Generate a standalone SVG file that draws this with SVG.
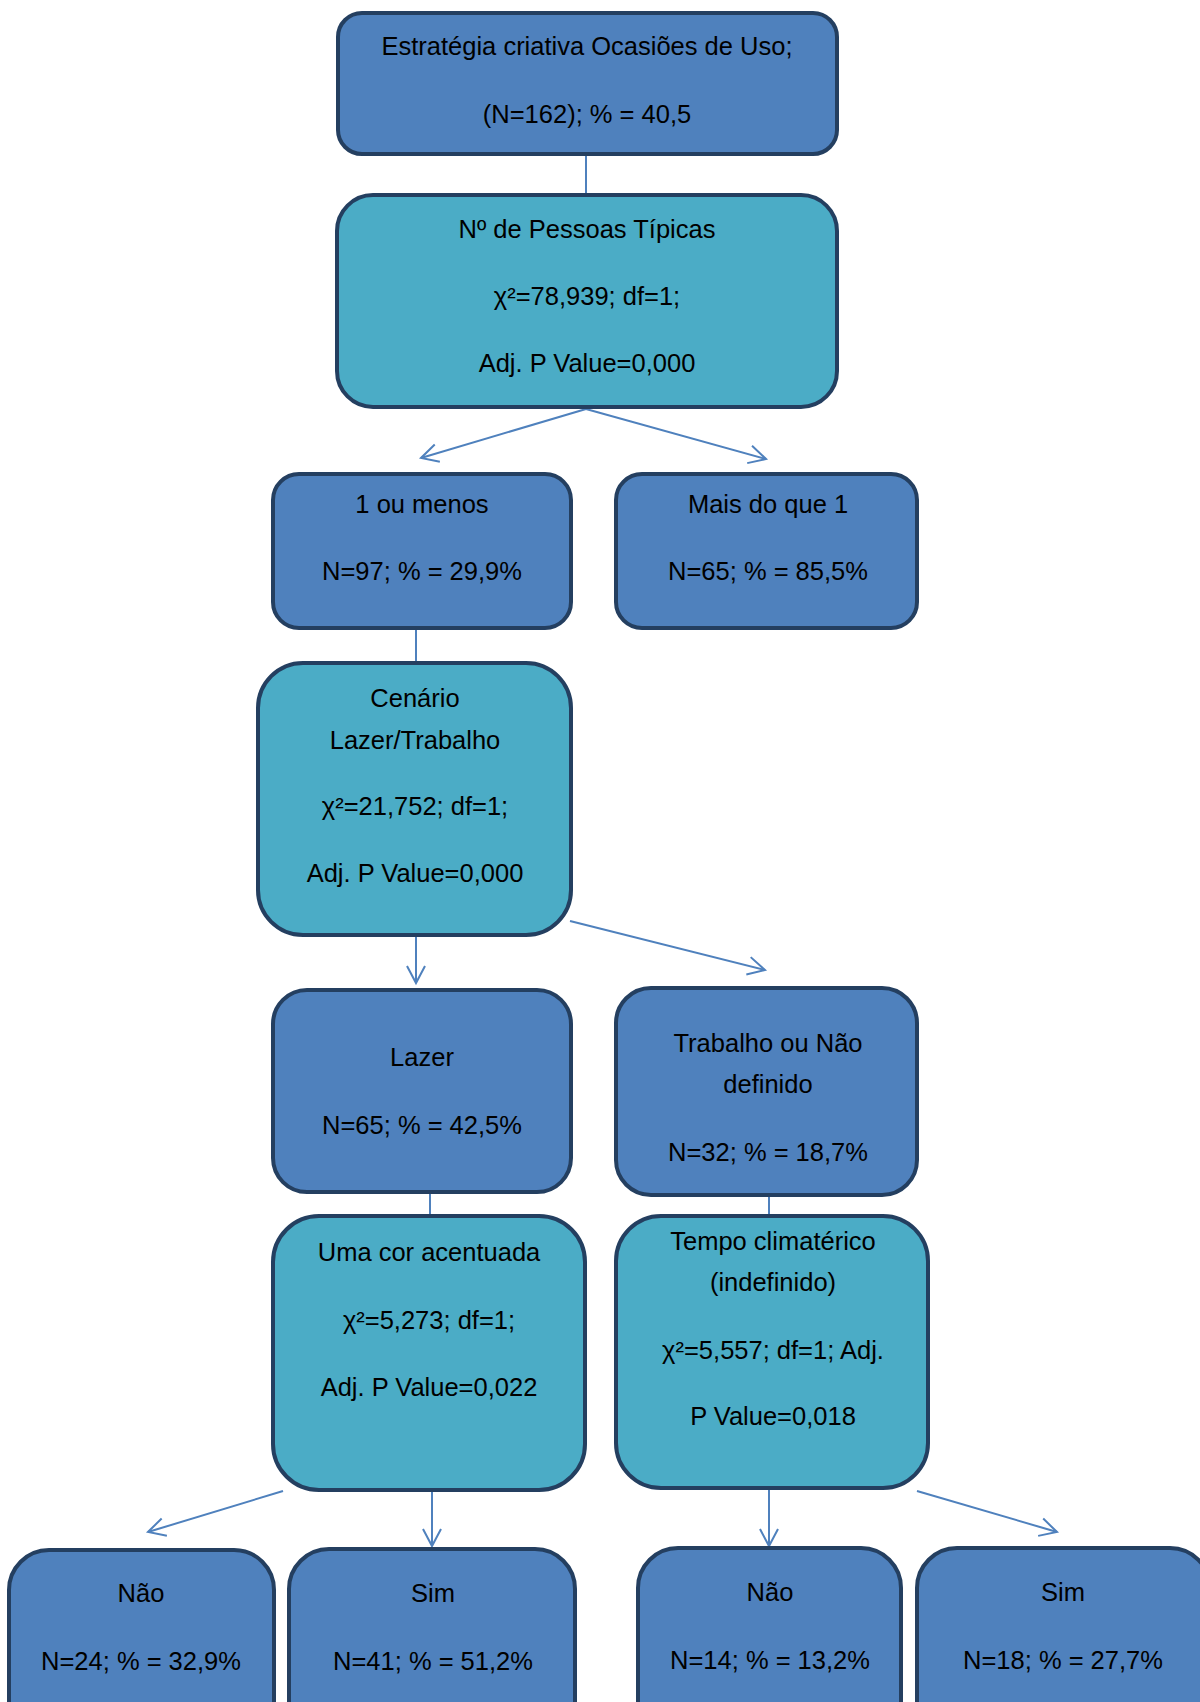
<svg xmlns="http://www.w3.org/2000/svg" width="1200" height="1702" viewBox="0 0 1200 1702">
  <style>
    .box { stroke: #243f60; stroke-width: 4; }
    .dark { fill: #4f81bd; }
    .teal { fill: #4bacc6; }
    .lbl { font-family: "Liberation Sans", Arial, sans-serif; font-size: 25.5px; fill: #000; text-anchor: middle; }
    .link { stroke: #4f81bd; stroke-width: 2; fill: none; }
  </style>
  <defs>
    <marker id="open" markerUnits="userSpaceOnUse" markerWidth="24" markerHeight="24" viewBox="-20 -12 24 24" refX="0" refY="0" orient="auto">
      <path d="M-17,-9 L0,0 L-17,9" fill="none" stroke="#4f81bd" stroke-width="2"/>
    </marker>
  </defs>
  <rect width="1200" height="1702" fill="#ffffff"/>

  <g id="connectors">
    <line class="link" x1="586" y1="154" x2="586" y2="195"/>
    <line class="link" x1="586" y1="409" x2="421" y2="458" marker-end="url(#open)"/>
    <line class="link" x1="586" y1="409" x2="766" y2="459" marker-end="url(#open)"/>
    <line class="link" x1="416" y1="628" x2="416" y2="663"/>
    <line class="link" x1="416" y1="935" x2="416" y2="983" marker-end="url(#open)"/>
    <line class="link" x1="570" y1="921" x2="765" y2="970" marker-end="url(#open)"/>
    <line class="link" x1="430" y1="1192" x2="430" y2="1216"/>
    <line class="link" x1="769" y1="1195" x2="769" y2="1216"/>
    <line class="link" x1="283" y1="1491" x2="148" y2="1532" marker-end="url(#open)"/>
    <line class="link" x1="432" y1="1490" x2="432" y2="1546" marker-end="url(#open)"/>
    <line class="link" x1="769" y1="1488" x2="769" y2="1546" marker-end="url(#open)"/>
    <line class="link" x1="917" y1="1491" x2="1057" y2="1532" marker-end="url(#open)"/>
  </g>

  <g id="root">
    <rect class="box dark" x="338" y="13" width="499" height="141" rx="24"/>
    <text class="lbl" x="587" y="55">Estratégia criativa Ocasiões de Uso;</text>
    <text class="lbl" x="587" y="123">(N=162); % = 40,5</text>
  </g>

  <g id="pessoas">
    <rect class="box teal" x="337" y="195" width="500" height="212" rx="36"/>
    <text class="lbl" x="587" y="238">Nº de Pessoas Típicas</text>
    <text class="lbl" x="587" y="305">χ²=78,939; df=1;</text>
    <text class="lbl" x="587" y="372">Adj. P Value=0,000</text>
  </g>

  <g id="um-ou-menos">
    <rect class="box dark" x="273" y="474" width="298" height="154" rx="26"/>
    <text class="lbl" x="422" y="513">1 ou menos</text>
    <text class="lbl" x="422" y="580">N=97; % = 29,9%</text>
  </g>

  <g id="mais-do-que-um">
    <rect class="box dark" x="616" y="474" width="301" height="154" rx="26"/>
    <text class="lbl" x="768" y="513">Mais do que 1</text>
    <text class="lbl" x="768" y="580">N=65; % = 85,5%</text>
  </g>

  <g id="cenario">
    <rect class="box teal" x="258" y="663" width="313" height="272" rx="45"/>
    <text class="lbl" x="415" y="707">Cenário</text>
    <text class="lbl" x="415" y="749">Lazer/Trabalho</text>
    <text class="lbl" x="415" y="815">χ²=21,752; df=1;</text>
    <text class="lbl" x="415" y="882">Adj. P Value=0,000</text>
  </g>

  <g id="lazer">
    <rect class="box dark" x="273" y="990" width="298" height="202" rx="34"/>
    <text class="lbl" x="422" y="1066">Lazer</text>
    <text class="lbl" x="422" y="1134">N=65; % = 42,5%</text>
  </g>

  <g id="trabalho">
    <rect class="box dark" x="616" y="988" width="301" height="207" rx="35"/>
    <text class="lbl" x="768" y="1052">Trabalho ou Não</text>
    <text class="lbl" x="768" y="1093">definido</text>
    <text class="lbl" x="768" y="1161">N=32; % = 18,7%</text>
  </g>

  <g id="cor-acentuada">
    <rect class="box teal" x="273" y="1216" width="312" height="274" rx="46"/>
    <text class="lbl" x="429" y="1261">Uma cor acentuada</text>
    <text class="lbl" x="429" y="1329">χ²=5,273; df=1;</text>
    <text class="lbl" x="429" y="1396">Adj. P Value=0,022</text>
  </g>

  <g id="tempo">
    <rect class="box teal" x="616" y="1216" width="312" height="272" rx="45"/>
    <text class="lbl" x="773" y="1250">Tempo climatérico</text>
    <text class="lbl" x="773" y="1291">(indefinido)</text>
    <text class="lbl" x="773" y="1359">χ²=5,557; df=1; Adj.</text>
    <text class="lbl" x="773" y="1425">P Value=0,018</text>
  </g>

  <g id="cor-nao">
    <rect class="box dark" x="9" y="1550" width="265" height="200" rx="40"/>
    <text class="lbl" x="141" y="1602">Não</text>
    <text class="lbl" x="141" y="1670">N=24; % = 32,9%</text>
  </g>

  <g id="cor-sim">
    <rect class="box dark" x="289" y="1549" width="286" height="200" rx="40"/>
    <text class="lbl" x="433" y="1602">Sim</text>
    <text class="lbl" x="433" y="1670">N=41; % = 51,2%</text>
  </g>

  <g id="tempo-nao">
    <rect class="box dark" x="638" y="1548" width="263" height="200" rx="40"/>
    <text class="lbl" x="770" y="1601">Não</text>
    <text class="lbl" x="770" y="1669">N=14; % = 13,2%</text>
  </g>

  <g id="tempo-sim">
    <rect class="box dark" x="917" y="1548" width="293" height="200" rx="40"/>
    <text class="lbl" x="1063" y="1601">Sim</text>
    <text class="lbl" x="1063" y="1669">N=18; % = 27,7%</text>
  </g>
</svg>
